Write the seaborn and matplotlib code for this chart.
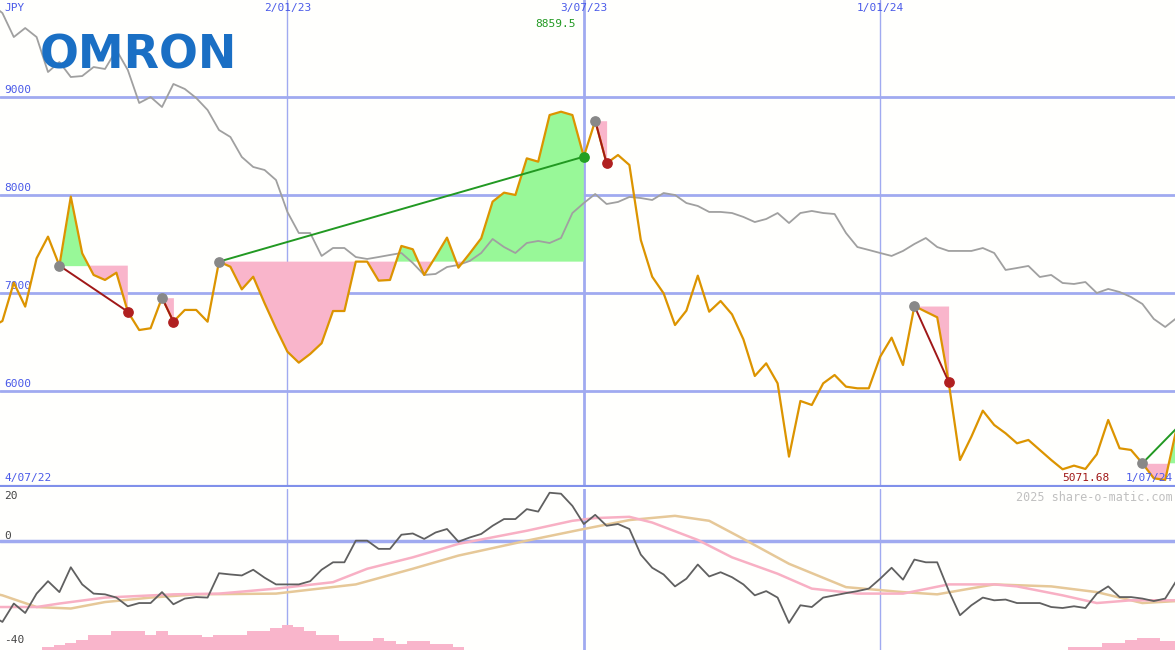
import numpy as np
import matplotlib
matplotlib.use("Agg")
import matplotlib.pyplot as plt
import seaborn as sns

# weekly closes, 4/07/22 .. 1/07/24 (index 0..104)
price = [6650, 6714, 7105, 6861, 7354, 7575, 7279, 7983, 7405, 7184, 7133, 7207, 6809, 6622, 6640,
         6952, 6707, 6827, 6827, 6707, 7320, 7268, 7037, 7166, 6895, 6640, 6401, 6289, 6378, 6487,
         6816, 6816, 7320, 7320, 7126, 7133, 7480, 7446, 7184, 7371, 7565, 7258, 7405, 7558, 7932,
         8024, 8000, 8374, 8340, 8816, 8850, 8816, 8391, 8758, 8323, 8408, 8306, 7541, 7166, 6997,
         6673, 6820, 7177, 6809, 6918, 6782, 6527, 6153, 6282, 6078, 5330, 5898, 5857, 6078, 6163,
         6044, 6027, 6027, 6350, 6544, 6265, 6867, 6809, 6752, 6095, 5296, 5534, 5799, 5653, 5568,
         5466, 5500, 5398, 5296, 5201, 5238, 5204, 5354, 5704, 5415, 5398, 5262, 5109, 5092, 5619]
avg_line = [9950, 9857, 9612, 9704, 9612, 9255, 9357, 9204, 9214, 9306, 9286, 9480, 9276, 8939, 9000,
            8898, 9133, 9082, 8990, 8867, 8663, 8592, 8388, 8286, 8255, 8153, 7827, 7612, 7612, 7378,
            7459, 7459, 7367, 7347, 7367, 7388, 7408, 7306, 7184, 7194, 7265, 7286, 7327, 7408, 7551,
            7469, 7408, 7510, 7531, 7510, 7561, 7816, 7918, 8010, 7908, 7929, 7980, 7969, 7949, 8020,
            8000, 7918, 7888, 7827, 7827, 7816, 7776, 7724, 7755, 7816, 7714, 7816, 7837, 7816, 7806,
            7612, 7469, 7439, 7408, 7378, 7429, 7500, 7561, 7469, 7429, 7429, 7429, 7459, 7408, 7235,
            7255, 7276, 7163, 7184, 7102, 7092, 7112, 7000, 7041, 7010, 6959, 6888, 6735, 6653, 6745]

# oscillator panel
osc = [-30, -32.7, -25.3, -29.1, -21.3, -16.3, -20.7, -10.7, -17.6, -21.3, -21.6, -22.9, -26.4, -25.1,
       -25.1, -20.7, -25.6, -23.3, -22.7, -22.9, -13.1, -13.6, -14.0, -11.7, -14.9, -17.6, -17.6, -17.6,
       -16.3, -11.7, -8.7, -8.7, 0, 0, -3.3, -3.3, 2.4, 2.9, 0.7, 3.3, 4.7, -0.4, 1.3, 2.7, 6.0, 8.7, 8.7,
       12.7, 11.7, 19.3, 18.9, 14.0, 6.7, 10.4, 6.0, 6.7, 4.7, -5.6, -10.9, -13.6, -18.4, -15.3, -9.6,
       -14.4, -12.7, -14.7, -17.6, -22.0, -20.3, -22.9, -33.1, -26.0, -26.7, -22.9, -22.0, -21.1, -20.3,
       -19.3, -15.3, -10.9, -15.7, -7.6, -8.7, -8.7, -20.0, -30.0, -26.0, -22.9, -24.0, -23.7, -25.1,
       -25.1, -25.1, -26.7, -27.1, -26.4, -27.1, -21.3, -18.4, -22.7, -22.7, -23.3, -24.3, -23.3, -16.0]
pink_idx = [0, 4, 6, 10, 16, 20, 25, 30, 33, 37, 41, 47, 51, 53, 56, 58, 62, 65, 69, 72, 76, 80, 84,
            88, 90, 94, 97, 100, 104]
pink_val = [-26.7, -26.7, -25.3, -22.9, -21.6, -21.3, -19.3, -16.7, -11.3, -6.7, -1.3, 4.0, 8.0, 9.1,
            9.6, 7.3, 0.3, -6.7, -13.3, -19.3, -21.3, -21.3, -17.6, -17.6, -18.4, -22.0, -25.1, -24.0, -24.0]
tan_idx = [0, 1, 4, 7, 10, 14, 18, 25, 32, 37, 41, 47, 52, 56, 60, 63, 66, 70, 75, 80, 83, 88, 93, 97,
           101, 104]
tan_val = [-21.0, -22.0, -26.7, -27.3, -24.7, -22.9, -21.6, -21.3, -17.6, -11.3, -6.0, 0, 4.7, 8.3, 10.0,
           8.0, 0.7, -9.3, -18.7, -20.7, -21.6, -17.6, -18.4, -20.7, -25.1, -24.3]
bar_idx = list(range(5, 42)) + list(range(95, 105))
bar_top = [-42.7, -42, -41.3, -40, -38, -38, -36.3, -36.3, -36.3, -38, -36.3, -38, -38, -38, -38.9,
           -38, -38, -38, -36.3, -36.3, -35.3, -34, -34.9, -36.3, -38, -38, -40.3, -40.3, -40.3, -39.2,
           -40.3, -41.6, -40.3, -40.3, -41.6, -41.6, -42.7,
           -42.7, -42.7, -42.7, -41.3, -41.3, -40, -39.2, -39.2, -40.3, -40.3]

# signals: (start week, end week, outcome)
signals = [(6, 12, "down"), (15, 16, "down"), (20, 52, "up"), (53, 54, "down"),
           (81, 84, "down"), (101, 104, "open")]

date_ticks = [26, 52, 78]
date_labels = ["2/01/23", "3/07/23", "1/01/24"]
price_ticks = [6000, 7000, 8000, 9000]

sns.set_theme(style="white")
plt.rcParams["font.family"] = ["DejaVu Sans Mono"]
BG = "#fffffd"
GRID = "#a0aaf0"
BLUE = "#4a5ae8"

fig = plt.figure(figsize=(11.75, 6.5), dpi=100, facecolor=BG)
ax = fig.add_axes([0, 1 - 487 / 650, 1, 487 / 650])
axb = fig.add_axes([0, 0, 1, 161 / 650])

x = np.arange(len(price))
p = np.array(price, dtype=float)
x0, x1 = (0 + 9) / 11.4, (1175 + 9) / 11.4

for a in (ax, axb):
    a.set_facecolor(BG)
    a.set_xlim(x0, x1)
    for s in a.spines.values():
        s.set_visible(False)
    a.set_xticks([])
    a.set_yticks([])
    for t in date_ticks:
        a.axvline(t, color=GRID, lw=2 if t == 52 else 1, zorder=0)

ax.set_ylim(5020, 9990)
for v in price_ticks:
    ax.axhline(v, color=GRID, lw=2, zorder=0)
    ax.text(x0 + 0.4, v + 20, str(v), color=BLUE, fontsize=8, va="bottom")
ax.axhline(5025, color="#8090ea", lw=3, zorder=0)

# shaded signal areas
for s, e, kind in signals:
    xs = x[s:e + 1]
    ys = p[s:e + 1]
    base = p[s]
    ax.fill_between(xs, ys, base, where=ys >= base, interpolate=True, color="#98f898", lw=0, zorder=1)
    ax.fill_between(xs, ys, base, where=ys <= base, interpolate=True, color="#f9b5cb", lw=0, zorder=1)

sns.lineplot(x=x, y=avg_line, ax=ax, color="#a0a0a0", lw=1.3, zorder=2)
sns.lineplot(x=x, y=price, ax=ax, color="#dc9400", lw=1.6, zorder=3)

for s, e, kind in signals:
    col = {"down": "#a01818", "up": "#229922", "open": "#229922"}[kind]
    ax.plot([s, e], [p[s], p[e]], color=col, lw=1.4, zorder=4)
    ax.scatter([s], [p[s]], s=45, color="#888888", zorder=5)
    if kind == "down":
        ax.scatter([e], [p[e]], s=45, color="#b02020", zorder=5)
    elif kind == "up":
        ax.scatter([e], [p[e]], s=45, color="#22a022", zorder=5)

ax.text(x0 + 0.4, 9960, "JPY", color=BLUE, fontsize=8, va="top")
for t, lab in zip(date_ticks, date_labels):
    ax.text(t, 9960, lab, color=BLUE, fontsize=8, ha="center", va="top")
ax.text(x0 + 0.4, 5060, "4/07/22", color=BLUE, fontsize=8, va="bottom")
ax.text(x1 - 0.2, 5060, "1/07/24", color=BLUE, fontsize=8, va="bottom", ha="right")
ax.text(49.5, 9800, "8859.5", color="#229922", fontsize=8, ha="center", va="top")
ax.text(96, 5060, "5071.68", color="#a01818", fontsize=8, ha="center", va="bottom")
ax.text(0.034, 0.884, "OMRON", transform=ax.transAxes, color="#1a6fc4", fontsize=33,
        fontweight="bold", family="DejaVu Sans", va="center", ha="left", zorder=6)

# oscillator panel
axb.set_ylim(-44, 20.8)
axb.axhline(0, color=GRID, lw=2.5, zorder=0)
axb.bar(bar_idx, [t + 44 for t in bar_top], bottom=-44, width=1.0, color="#f9b5cb", lw=0, zorder=1)
sns.lineplot(x=tan_idx, y=tan_val, ax=axb, color="#e6c898", lw=1.8, zorder=2)
sns.lineplot(x=pink_idx, y=pink_val, ax=axb, color="#f8b0c4", lw=1.8, zorder=2)
sns.lineplot(x=x, y=osc, ax=axb, color="#606060", lw=1.3, zorder=3)
axb.text(x0 + 0.4, 18, "20", color="#444444", fontsize=8, va="center")
axb.text(x0 + 0.4, 2, "0", color="#444444", fontsize=8, va="center")
axb.text(x0 + 0.4, -40, "-40", color="#444444", fontsize=8, va="center")
axb.text(x1 - 0.2, 17.5, "2025 share-o-matic.com", color="#c0c0c0", fontsize=8.5, ha="right", va="center")

fig.savefig("out.png", dpi=100, facecolor=BG)
